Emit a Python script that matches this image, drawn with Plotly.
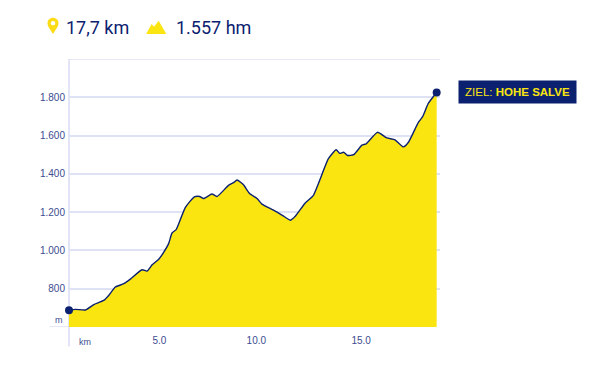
import plotly.graph_objects as go

distance_km = [0.00, 0.33, 0.85, 1.27, 1.78, 2.04, 2.38, 2.81, 3.15, 3.75, 4.01, 4.27, 4.61, 4.86, 5.12, 5.29, 5.51,
               5.97, 6.44, 6.71, 6.91, 7.34, 7.60, 8.19, 8.45, 8.63, 8.96, 9.26, 9.67, 9.91, 10.50, 11.02, 11.36,
               11.62, 12.13, 12.55, 13.32, 13.72, 13.90, 14.10, 14.30, 14.62, 15.04, 15.26, 15.84, 16.32, 16.74,
               17.17, 17.43, 17.94, 18.16, 18.45, 18.88]
elevation_m = [687, 692, 689, 717, 739, 765, 809, 826, 850, 899, 892, 925, 954, 990, 1037, 1091, 1110,
               1224, 1280, 1282, 1271, 1295, 1282, 1340, 1354, 1368, 1343, 1299, 1270, 1242, 1210, 1179, 1158,
               1179, 1248, 1288, 1479, 1526, 1507, 1513, 1496, 1500, 1550, 1557, 1617, 1588, 1578,
               1541, 1565, 1669, 1699, 1768, 1825]
y_ticks = [600, 800, 1000, 1200, 1400, 1600, 1800]
y_labels = ["", "800", "1.000", "1.200", "1.400", "1.600", "1.800"]
x_ticks = [4.64, 9.62, 15.0]
x_labels = ["5.0", "10.0", "15.0"]

W, H = 600, 374
PAGE = 8  # default page margin of the written html
L, R, T, B = 68.5, 440, 58.5, 327.5
NAVY = "#0b2170"
YEL = "#fbe511"
GRID = "#dfe1f4"
AXIS = "#c6cbee"
LABEL = "#3c4c90"
SANS = "Liberation Sans"


def fx(p):
    return (p - L) / (R - L)


def fy(p):
    return (B - p) / (B - T)


def poly(points):
    return "M " + " L ".join(f"{fx(a):.4f},{fy(b):.4f}" for a, b in points) + " Z"


fig = go.Figure()
fig.add_trace(go.Scatter(
    x=distance_km, y=elevation_m, mode="lines", fill="tozeroy", fillcolor=YEL,
    line=dict(color=NAVY, width=1.4, shape="spline", smoothing=0.5), hoverinfo="skip"))
fig.add_trace(go.Scatter(
    x=[distance_km[0], distance_km[-1]], y=[elevation_m[0], elevation_m[-1]], mode="markers",
    marker=dict(color=NAVY, size=8), cliponaxis=False, hoverinfo="skip"))

pin_d = (
    f"M {fx(52.5):.4f},{fy(33.5):.4f} "
    f"C {fx(50):.4f},{fy(28.5):.4f} {fx(47):.4f},{fy(26):.4f} {fx(47):.4f},{fy(22.5):.4f} "
    f"C {fx(47):.4f},{fy(19.3):.4f} {fx(49.5):.4f},{fy(17):.4f} {fx(52.5):.4f},{fy(17):.4f} "
    f"C {fx(55.5):.4f},{fy(17):.4f} {fx(58):.4f},{fy(19.3):.4f} {fx(58):.4f},{fy(22.5):.4f} "
    f"C {fx(58):.4f},{fy(26):.4f} {fx(55):.4f},{fy(28.5):.4f} {fx(52.5):.4f},{fy(33.5):.4f} Z"
)
shapes = [
    dict(type="line", xref="paper", yref="y", x0=fx(49), x1=0, y0=600, y1=600,
         line=dict(color=GRID, width=1.5), layer="below"),
    dict(type="line", xref="paper", yref="y", x0=0, x1=1, y0=2000, y1=2000,
         line=dict(color=GRID, width=1.5), layer="below"),
    dict(type="line", xref="paper", yref="paper", x0=0, x1=0, y0=fy(347), y1=1,
         line=dict(color=AXIS, width=1), layer="below"),
    dict(type="path", xref="paper", yref="paper", path=pin_d, fillcolor="#fbdc14", line_width=0),
    dict(type="circle", xref="paper", yref="paper", x0=fx(50.3), x1=fx(54.7), y0=fy(24.7), y1=fy(20.3),
         fillcolor="white", line_width=0),
    dict(type="path", xref="paper", yref="paper", fillcolor=YEL, line_width=0,
         path=poly([(145.7, 33.5), (151.3, 23.3), (153.6, 26.2), (158.3, 20), (166, 33.5)])),
]

annotations = [
    dict(text="17,7 km", x=fx(63), y=fy(27), xanchor="left", yanchor="middle", showarrow=False,
         font=dict(family="Roboto", size=18, color=NAVY)),
    dict(text="1.557 hm", x=fx(174), y=fy(27), xanchor="left", yanchor="middle", showarrow=False,
         font=dict(family="Roboto", size=18, color=NAVY)),
    dict(text="m", x=fx(58), y=fy(320.5), xanchor="center", yanchor="middle", showarrow=False,
         font=dict(family=SANS, size=9, color=LABEL)),
    dict(text="km", x=fx(84.5), y=fy(343), xanchor="center", yanchor="middle", showarrow=False,
         font=dict(family=SANS, size=9, color=LABEL)),
    dict(text="ZIEL: <b>HOHE SALVE</b>", x=fx(458), y=fy(92), xanchor="left", yanchor="middle",
         showarrow=False, width=117, height=22, align="center", bgcolor=NAVY, borderpad=0,
         font=dict(family=SANS, size=11.5, color=YEL)),
]
for a in annotations:
    a.update(xref="paper", yref="paper")

fig.update_layout(
    width=W - PAGE, height=H - PAGE, autosize=False,
    margin=dict(l=L - PAGE, r=W - R, t=T - PAGE, b=H - B, pad=0),
    paper_bgcolor="white", plot_bgcolor="white", showlegend=False,
    shapes=shapes, annotations=annotations,
    xaxis=dict(range=[0, (R - L) / 19.5], tickmode="array", tickvals=x_ticks, ticktext=x_labels,
               showgrid=False, zeroline=False, showline=False, ticks="", ticklabelstandoff=6,
               tickfont=dict(family=SANS, size=10, color=LABEL)),
    yaxis=dict(range=[600, 2000], tickmode="array", tickvals=y_ticks, ticktext=y_labels,
               showgrid=True, gridcolor=GRID, gridwidth=1.5, zeroline=False,
               showline=False, ticks="", ticklabelstandoff=3,
               tickfont=dict(family=SANS, size=10, color=LABEL)),
)
fig.write_html("out.html")
